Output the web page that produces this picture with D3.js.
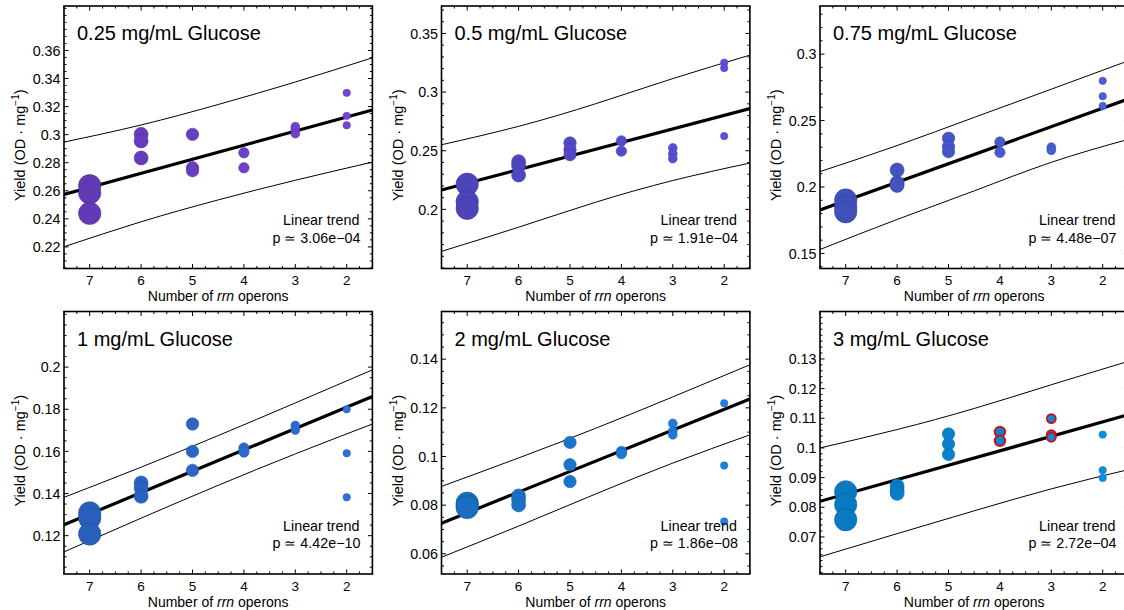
<!DOCTYPE html>
<html><head><meta charset="utf-8">
<script src="https://cdn.jsdelivr.net/npm/d3@7"></script>
<style>
html,body{margin:0;padding:0;background:#fff;}
text{font-family:"Liberation Sans",Arial,Helvetica,sans-serif;fill:#000;}
</style></head>
<body><svg id="chart" width="1124" height="610"></svg>
<script>
// ---------------- DATA ----------------
const rrnLevels = [7, 6, 5, 4, 3, 2];
const panelTitles = ["0.25 mg/mL Glucose", "0.5 mg/mL Glucose", "0.75 mg/mL Glucose",
                     "1 mg/mL Glucose", "2 mg/mL Glucose", "3 mg/mL Glucose"];
const trendLabel = "Linear trend";
const pValueLabels = ["p \u2243 3.06e\u221204", "p \u2243 1.91e\u221204", "p \u2243 4.48e\u221207",
                      "p \u2243 4.42e\u221210", "p \u2243 1.86e\u221208", "p \u2243 2.72e\u221204"];
const xTickLabels = ["7", "6", "5", "4", "3", "2"];
const xLabelPre = "Number of ", xLabelItalic = "rrn", xLabelPost = " operons";

// yields, grouped in the order of rrnLevels
const yield025 = [[0.2636, 0.2586, 0.2439], [0.3002, 0.2955, 0.2834], [0.3002, 0.2764, 0.2743],
                  [0.2871, 0.2764], [0.3057, 0.3034, 0.3007], [0.3298, 0.3134, 0.3067]];
const yield050 = [[0.2214, 0.2066, 0.2009], [0.2407, 0.2373, 0.2293], [0.2566, 0.2511, 0.2466],
                  [0.2584, 0.2497], [0.2524, 0.2475, 0.2433], [0.3251, 0.3205, 0.2625]];
const yield075 = [[0.1902, 0.1852, 0.1814], [0.2128, 0.2033, 0.2012], [0.2367, 0.2304, 0.2266],
                  [0.2339, 0.2261], [0.2300, 0.2276], [0.2799, 0.2683, 0.2610]];
const yield100 = [[0.1308, 0.1284, 0.1208], [0.1450, 0.1426, 0.1387], [0.1730, 0.1600, 0.1510],
                  [0.1616, 0.1597], [0.1723, 0.1701], [0.1800, 0.1591, 0.1382]];
const yield200 = [[0.0808, 0.0797, 0.0790], [0.0838, 0.0822, 0.0801], [0.1058, 0.0966, 0.0897],
                  [0.1021, 0.1012], [0.1136, 0.1105, 0.1089], [0.1219, 0.0963, 0.0733]];
const yield300 = [[0.0852, 0.0809, 0.0758], [0.0872, 0.0858, 0.0847], [0.1047, 0.1013, 0.0978],
                  [0.1054, 0.1024], [0.1099, 0.1045, 0.1036], [0.1045, 0.0925, 0.0899]];
const yields = [yield025, yield050, yield075, yield100, yield200, yield300];

// flagged (red-ringed) groups: [panel index, rrn]
const flaggedGroups = [[5, 4], [5, 3]];

// fitted line, value at x = 7.5 and at x = 1.5
const fitX = [7.5, 1.5];
const fit025 = [0.2574, 0.3176];
const fit050 = [0.2165, 0.2860];
const fit075 = [0.1827, 0.2663];
const fit100 = [0.1252, 0.1861];
const fit200 = [0.0726, 0.1236];
const fit300 = [0.0820, 0.1112];
const fits = [fit025, fit050, fit075, fit100, fit200, fit300];

// prediction bands, read at bandX
const bandX = [7.5, 6, 4.5, 3, 1.5];
const upper025 = [0.2947, 0.3069, 0.3215, 0.3375, 0.3548];
const lower025 = [0.2201, 0.2379, 0.2535, 0.2675, 0.2804];
const upper050 = [0.2551, 0.2708, 0.2901, 0.3115, 0.3315];
const lower050 = [0.1642, 0.1848, 0.2061, 0.2246, 0.2395];
const upper075 = [0.2116, 0.2312, 0.2524, 0.2736, 0.2950];
const lower075 = [0.1530, 0.1756, 0.1971, 0.2186, 0.2359];
const upper100 = [0.1382, 0.1525, 0.1675, 0.1830, 0.1987];
const lower100 = [0.1123, 0.1283, 0.1439, 0.1588, 0.1730];
const upper200 = [0.0877, 0.0994, 0.1116, 0.1245, 0.1377];
const lower200 = [0.0586, 0.0714, 0.0846, 0.0973, 0.1089];
const upper300 = [0.1000, 0.1062, 0.1133, 0.1213, 0.1292];
const lower300 = [0.0633, 0.0711, 0.0788, 0.0862, 0.0927];
const uppers = [upper025, upper050, upper075, upper100, upper200, upper300];
const lowers = [lower025, lower050, lower075, lower100, lower200, lower300];

// y axes
const yDomains = [[0.2046, 0.3917], [0.1496, 0.3734], [0.1387, 0.3362],
                  [0.1018, 0.2264], [0.0517, 0.1596], [0.0575, 0.1460]];
const yTicks025 = [0.22, 0.24, 0.26, 0.28, 0.3, 0.32, 0.34, 0.36];
const yTicks050 = [0.2, 0.25, 0.3, 0.35];
const yTicks075 = [0.15, 0.2, 0.25, 0.3];
const yTicks100 = [0.12, 0.14, 0.16, 0.18, 0.2];
const yTicks200 = [0.06, 0.08, 0.1, 0.12, 0.14];
const yTicks300 = [0.07, 0.08, 0.09, 0.1, 0.11, 0.12, 0.13];
const yTickSets = [yTicks025, yTicks050, yTicks075, yTicks100, yTicks200, yTicks300];
const yMinorSteps = [0.005, 0.01, 0.01, 0.005, 0.005, 0.002];

// ---------------- STYLE / LAYOUT ----------------
const panelColors = ["#7444d4", "#5a50d8", "#4a5fd9", "#2f6fdc", "#1e80e0", "#0a8ee2"];
const panelLefts = [64, 441.5, 820];
const panelTops = [6, 311.5];
const PW = 308.4, PH = 262.5;
const radiusFor = d3.scaleOrdinal().domain(rrnLevels).range([11.2, 7, 6.2, 5.2, 4.4, 3.7]);
const shadeFor = d3.scaleLinear().domain([2, 7]).range([0, 0.45]);

const svg = d3.select("#chart");
const fmt = v => String(+v.toFixed(4));

panelTitles.forEach((title, i) => {
  const left = panelLefts[i % 3], top = panelTops[Math.floor(i / 3)];
  const g = svg.append("g").attr("transform", `translate(${left},${top})`);
  const x = d3.scaleLinear().domain([7.5, 1.5]).range([0, PW]);
  const y = d3.scaleLinear().domain(yDomains[i]).range([PH, 0]);

  const clipId = "clip" + i;
  g.append("clipPath").attr("id", clipId).append("rect").attr("width", PW).attr("height", PH);
  const plot = g.append("g").attr("clip-path", `url(#${clipId})`);

  // bands
  const bandLine = d3.line().x(d => x(d[0])).y(d => y(d[1])).curve(d3.curveNatural);
  [uppers[i], lowers[i]].forEach(arr => {
    plot.append("path").attr("d", bandLine(bandX.map((bx, k) => [bx, arr[k]])))
      .attr("fill", "none").attr("stroke", "#000").attr("stroke-width", 1);
  });
  // fit
  plot.append("path").attr("d", d3.line().x(d => x(d[0])).y(d => y(d[1]))(fitX.map((fx, k) => [fx, fits[i][k]])))
    .attr("fill", "none").attr("stroke", "#000").attr("stroke-width", 3.2);

  // points
  const pts = [];
  rrnLevels.forEach((r, k) => yields[i][k].forEach(v => pts.push({r, v,
    flag: flaggedGroups.some(f => f[0] === i && f[1] === r)})));
  pts.sort((a, b) => b.r - a.r);
  g.selectAll("circle.pt").data(pts).join("circle").attr("class", "pt")
    .attr("cx", d => x(d.r)).attr("cy", d => y(d.v)).attr("r", d => radiusFor(d.r))
    .attr("fill", d => d3.color(panelColors[i]).darker(shadeFor(d.r)).formatHex())
    .attr("stroke", d => d.flag ? "#c8141c" : d3.color(panelColors[i]).darker(shadeFor(d.r) + 0.5).formatHex())
    .attr("stroke-width", d => d.flag ? 2 : 0.6);

  // frame
  g.append("rect").attr("width", PW).attr("height", PH).attr("fill", "none")
    .attr("stroke", "#000").attr("stroke-width", 1.6);

  // ticks
  const xMajor = rrnLevels;
  const xMinor = d3.range(1.5, 7.51, 0.25).filter(v => Math.abs(v - Math.round(v)) > 1e-6);
  const ticks = g.append("g").attr("stroke", "#000").attr("stroke-width", 1);
  const tl = (v, len) => {
    ticks.append("line").attr("x1", x(v)).attr("x2", x(v)).attr("y1", PH).attr("y2", PH - len);
    ticks.append("line").attr("x1", x(v)).attr("x2", x(v)).attr("y1", 0).attr("y2", len);
  };
  xMajor.forEach(v => tl(v, 4.5));
  xMinor.forEach(v => tl(v, 2.5));
  const yTicks = yTickSets[i];
  const [d0, d1] = yDomains[i];
  const step = yMinorSteps[i];
  const yMinor = d3.range(Math.ceil(d0 / step - 1e-6), Math.floor(d1 / step + 1e-6) + 1)
    .map(k => k * step).filter(v => !yTicks.some(t => Math.abs(t - v) < 1e-7));
  const ytl = (v, len) => {
    ticks.append("line").attr("y1", y(v)).attr("y2", y(v)).attr("x1", 0).attr("x2", len);
    ticks.append("line").attr("y1", y(v)).attr("y2", y(v)).attr("x1", PW).attr("x2", PW - len);
  };
  yTicks.forEach(v => ytl(v, 4.5));
  yMinor.forEach(v => ytl(v, 2.5));

  // tick labels
  g.selectAll("text.yt").data(yTicks).join("text").attr("class", "yt")
    .attr("x", -3.5).attr("y", d => y(d)).attr("dy", "0.36em").attr("text-anchor", "end")
    .attr("font-size", 14.3).text(fmt);
  g.selectAll("text.xt").data(xMajor).join("text").attr("class", "xt")
    .attr("x", d => x(d)).attr("y", PH + 16.5).attr("text-anchor", "middle")
    .attr("font-size", 13.5).text((d, k) => xTickLabels[k]);

  // axis labels
  const xl = g.append("text").attr("x", PW / 2).attr("y", PH + 32.5).attr("text-anchor", "middle").attr("font-size", 14);
  xl.append("tspan").text(xLabelPre);
  xl.append("tspan").attr("font-style", "italic").text(xLabelItalic);
  xl.append("tspan").text(xLabelPost);
  const yl = g.append("text").attr("transform", `translate(-39,${PH / 2 + 8}) rotate(-90)`)
    .attr("text-anchor", "middle").attr("font-size", 14.5);
  yl.append("tspan").text("Yield (OD \u00B7 mg");
  yl.append("tspan").attr("font-size", 10).attr("dy", -6).text("\u22121");
  yl.append("tspan").attr("dy", 6).text(")");

  // title & annotation
  g.append("text").attr("x", 13).attr("y", 34).attr("font-size", 20).text(title);
  g.append("text").attr("x", PW - 13).attr("y", PH - 43.5).attr("text-anchor", "end")
    .attr("font-size", 14.3).text(trendLabel);
  g.append("text").attr("x", PW - 12).attr("y", PH - 26).attr("text-anchor", "end")
    .attr("font-size", 14.3).text(pValueLabels[i]);
});
</script>
</body></html>
